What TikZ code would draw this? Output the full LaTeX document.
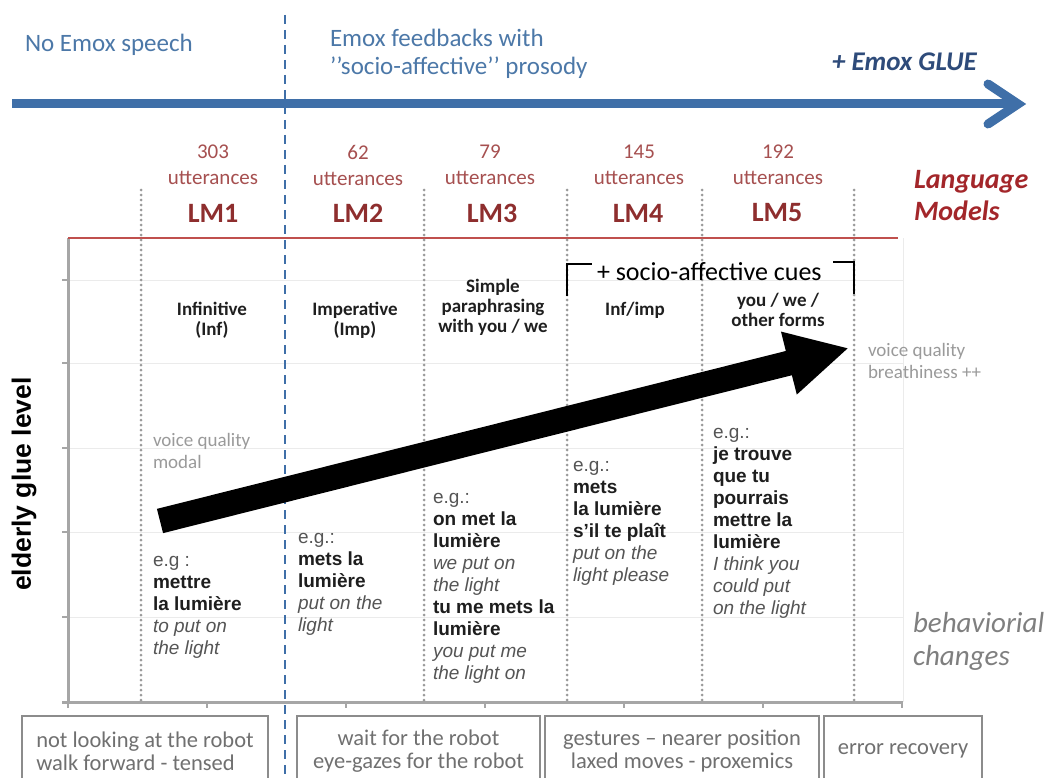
\documentclass[tikz,border=0pt]{standalone}
\usepackage{fontspec}
\setmainfont{Carlito}
\newfontfamily\arialf{Liberation Sans}
\usetikzlibrary{arrows.meta}
\newcommand{\fsz}[2]{\fontsize{#1}{#2}\selectfont}
\definecolor{emoxblue}{HTML}{3F6FA8}
\definecolor{toptext}{HTML}{4C78A8}
\definecolor{gluecol}{HTML}{2E4B7A}
\definecolor{lmred}{HTML}{8E2E2E}
\definecolor{numred}{HTML}{A65050}
\definecolor{lmtitle}{HTML}{A3262A}
\definecolor{redline}{HTML}{C0504D}
\definecolor{axisgray}{HTML}{A6A6A6}
\definecolor{dotgray}{HTML}{9A9A9A}
\definecolor{boxgray}{HTML}{8C8C8C}
\definecolor{boxtext}{HTML}{707070}
\definecolor{vqgray}{HTML}{9A9A9A}
\definecolor{behgray}{HTML}{7F7F7F}
\definecolor{egcol}{HTML}{555555}
\definecolor{boldcol}{HTML}{1E1E1E}
\tikzset{
  toptxt/.style={text=toptext, font=\fsz{25}{28}, anchor=west, align=left},
  numlbl/.style={text=numred, font=\fsz{21}{26}, align=center},
  lmlbl/.style={text=lmred, font=\bfseries\fsz{28}{30}},
  colhead/.style={font=\bfseries\fsz{19}{20}, align=center, text=black!88},
  exblock/.style={font=\arialf\fsz{19}{22}, align=left, anchor=north west, text=boldcol},
  dotline/.style={dotgray, line width=3pt, dash pattern=on 0pt off 5pt, line cap=round},
  bluedash/.style={emoxblue, line width=2pt, dash pattern=on 9pt off 6pt},
  vqtext/.style={text=vqgray, font=\fsz{19}{22}, align=left, anchor=west},
  behbox/.style={draw=boxgray, line width=2.2pt, text=boxtext, font=\fsz{22.5}{23}, minimum height=70pt},
  bracketline/.style={black, line width=2.5pt},
  gridl/.style={black!8, line width=1pt},
  axisl/.style={axisgray, line width=3pt}
}
\newcommand{\eg}[1]{{\color{egcol}#1}}
\newcommand{\itx}[1]{{\color{egcol}\itshape #1}}
\begin{document}
\begin{tikzpicture}[x=1pt,y=-1pt, every node/.style={inner sep=0pt, outer sep=0pt}]
\useasboundingbox (0,0) rectangle (1051,778);
\clip (0,0) rectangle (1051,778);
\fill[white] (0,0) rectangle (1051,778);
% grid
\foreach \yy in {280,363,448,532,617} \draw[gridl] (68,\yy) -- (903,\yy);
\draw[gridl] (903,238) -- (903,702);
% axes
\draw[axisl] (68,238) -- (68,702);
\draw[axisl] (62,702) -- (903,702);
\foreach \yy in {280,363,448,532,617,702} \draw[axisgray, line width=2pt] (62,\yy) -- (68,\yy);
\foreach \xx in {68,207,346,485,624,763,902} \draw[axisgray, line width=2pt] (\xx,702) -- (\xx,708);
% red line
\draw[redline, line width=2pt] (68,238) -- (898,238);
% dotted separators
\foreach \xx in {141,424,567,702,854} \draw[dotline] (\xx,190) -- (\xx,700);
% blue dashed
\draw[bluedash] (285,15) -- (285,778);
% top texts
\node[toptxt] (noemox) at (25,45) {No Emox speech};
\node[toptxt] (feedb) at (330,54) {Emox feedbacks with\\’’socio-affective’’ prosody};
\node[anchor=west, text=gluecol, font=\bfseries\itshape\fsz{27}{30}] (glue) at (832,62) {+ Emox GLUE};
% utterances
\node[numlbl] (n1) at (213,165) {303\\utterances};
\node[numlbl] (n2) at (358,165) {62\\utterances};
\node[numlbl] (n3) at (490,165) {79\\utterances};
\node[numlbl] (n4) at (639,165) {145\\utterances};
\node[numlbl] (n5) at (778,165) {192\\utterances};
\node[lmlbl] (lm1) at (213,213) {LM1};
\node[lmlbl] (lm2) at (358,213) {LM2};
\node[lmlbl] (lm3) at (492,213) {LM3};
\node[lmlbl] (lm4) at (638,213) {LM4};
\node[lmlbl] (lm5) at (777,213) {LM5};
\node[anchor=west, align=left, text=lmtitle, font=\bfseries\itshape\fsz{28}{32}] (lmt) at (914,196) {Language\\Models};
% headers
\node[colhead] (h1) at (212,320) {Infinitive\\(Inf)};
\node[colhead] (h2) at (355,320) {Imperative\\(Imp)};
\node[colhead] (h3) at (493,307) {Simple\\paraphrasing\\with you / we};
\node[colhead] (h4) at (635,310) {Inf/imp};
\node[colhead] (h5) at (778,310) {you / we /\\other forms};
% socio-affective cues bracket
\node[anchor=west, font=\fsz{26}{28}] (cues) at (597,272) {+ socio-affective cues};
\draw[bracketline] (567,296) |- (592,264);
\draw[bracketline] (833,262) -| (854,294);
% voice quality
\node[vqtext] (vq1) at (153,451) {voice quality\\modal};
\node[vqtext] (vq2) at (868,361) {voice quality\\breathiness ++};
% examples
\node[exblock] (e1) at (153,551) {\strut\eg{e.g :}\\\textbf{mettre}\\\textbf{la lumière}\\\itx{to put on}\\\itx{the light}};
\node[exblock] (e2) at (298,528) {\strut\eg{e.g.:}\\\textbf{mets la}\\\textbf{lumière}\\\itx{put on the}\\\itx{light}};
\node[exblock] (e3) at (433,488) {\strut\eg{e.g.:}\\\textbf{on met la}\\\textbf{lumière}\\\itx{we put on}\\\itx{the light}\\\textbf{tu me mets la}\\\textbf{lumière}\\\itx{you put me}\\\itx{the light on}};
\node[exblock] (e4) at (573,456) {\strut\eg{e.g.:}\\\textbf{mets}\\\textbf{la lumière}\\\textbf{s’il te plaît}\\\itx{put on the}\\\itx{light please}};
\node[exblock] (e5) at (713,423) {\strut\eg{e.g.:}\\\textbf{je trouve}\\\textbf{que tu}\\\textbf{pourrais}\\\textbf{mettre la}\\\textbf{lumière}\\\itx{I think you}\\\itx{could put}\\\itx{on the light}};
% y label
\node[rotate=90, font=\arialf\bfseries\fsz{26.5}{28}] (ylab) at (24,484) {elderly glue level};
% behavioral
\node[anchor=west, align=left, font=\itshape\fsz{29}{33}, text=behgray] (beh) at (913,641) {behaviorial\\changes};
% black arrow
\coordinate (atail) at (160,521);
\coordinate (atip) at (849,348);
\draw[black, line width=25pt, -{Triangle[length=62pt,width=60pt]}] (atail) -- (atip);
% blue arrow
\coordinate (bstart) at (12,104);
\coordinate (bend) at (1016,104);
\coordinate (bw1) at (988,84);
\coordinate (bw2) at (988,124);
\coordinate (bvert) at (1018,104);
\draw[emoxblue, line width=9pt] (bstart) -- (bend);
\draw[emoxblue, line width=9pt, line cap=round, line join=miter] (bw1) -- (bvert) -- (bw2);
% behaviour boxes
\node[behbox, align=left, minimum width=246pt] (b1) at (145,751) {not looking at the robot\\walk forward - tensed};
\node[behbox, align=center, minimum width=243pt] (b2) at (418.5,751) {wait for the robot\\eye-gazes for the robot};
\node[behbox, align=center, minimum width=274pt] (b3) at (682,751) {gestures – nearer position\\laxed moves - proxemics};
\node[behbox, minimum width=158pt] (b4) at (903,751) {error recovery};
\end{tikzpicture}
\end{document}
